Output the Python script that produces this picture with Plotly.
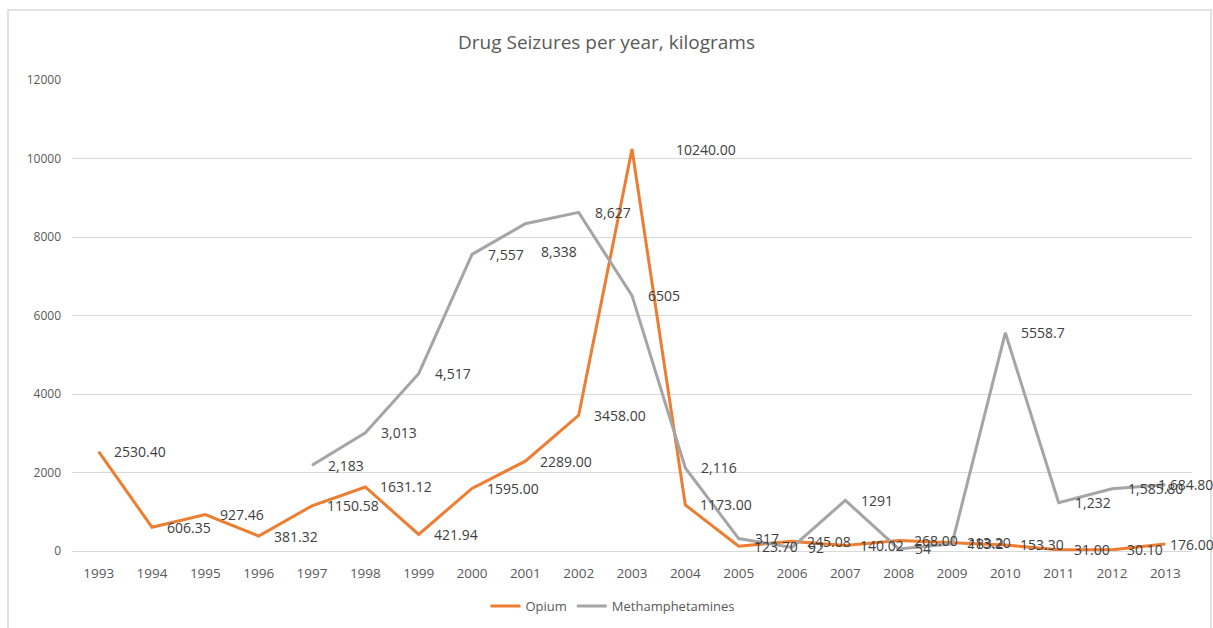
import plotly.graph_objects as go

years = [str(y) for y in range(1993, 2014)]
opium = [2530.40, 606.35, 927.46, 381.32, 1150.58, 1631.12, 421.94, 1595.00, 2289.00,
         3458.00, 10240.00, 1173.00, 123.70, 245.08, 140.02, 268.00, 213.20, 153.30,
         31.00, 30.10, 176.00]
meth = [None, None, None, None, 2183, 3013, 4517, 7557, 8338, 8627, 6505, 2116, 317, 92,
        1291, 54, 183.2, 5558.7, 1232, 1585.80, 1684.80]
meth_labels = [None, None, None, None, "2,183", "3,013", "4,517", "7,557", "8,338", "8,627",
               "6505", "2,116", "317", "92", "1291", "54", "183.2", "5558.7", "1,232",
               "1,585.80", "1,684.80"]
opium_labels = [f"{v:.2f}" for v in opium]

ORANGE = "#ED7D31"
GRAY = "#A5A5A5"
TXT = "#595959"
FONT = "Open Sans"
LBL = dict(family=FONT, size=14, color="#404040")

fig = go.Figure()
fig.add_trace(go.Scatter(x=years, y=opium, mode="lines", name="Opium",
                         line=dict(color=ORANGE, width=3)))
fig.add_trace(go.Scatter(x=years, y=meth, mode="lines", name="Methamphetamines",
                         line=dict(color=GRAY, width=3)))

# label nudges (pixels) for a few labels placed by hand in the original
nudge_meth = {"2001": (14, -28), "2013": (-9, 0)}
nudge_op = {"2003": (42, 0), "2013": (3, 0)}

ann = []
for i, (yr, v, lab) in enumerate(zip(years, opium, opium_labels)):
    dx, dy = nudge_op.get(yr, (13, 0))
    ann.append(dict(x=i, y=v, xref="x", yref="y", text=lab, showarrow=False,
                    xanchor="left", yanchor="middle", xshift=dx, yshift=dy, font=LBL))
for i, (yr, v, lab) in enumerate(zip(years, meth, meth_labels)):
    if v is None:
        continue
    dx, dy = nudge_meth.get(yr, (14, 0))
    ann.append(dict(x=i, y=v, xref="x", yref="y", text=lab, showarrow=False,
                    xanchor="left", yanchor="middle", xshift=dx, yshift=dy, font=LBL))

fig.update_layout(
    width=1213, height=628,
    paper_bgcolor="white", plot_bgcolor="white",
    margin=dict(l=72, r=21, t=80, b=77, autoexpand=False),
    title=dict(text="Drug Seizures per year, kilograms", x=0.5, xanchor="center",
               y=1 - 42 / 628, yanchor="middle",
               font=dict(family=FONT, size=19, color=TXT)),
    font=dict(family=FONT, color=TXT),
    xaxis=dict(type="category", range=[-0.5, 20.5], showgrid=False, showline=False,
               ticks="", ticklabelstandoff=12,
               tickfont=dict(family=FONT, size=13.5, color=TXT)),
    yaxis=dict(range=[0, 12000], dtick=2000, tickformat="d", gridcolor="#D9D9D9",
               gridwidth=1, zeroline=True, zerolinecolor="#D9D9D9", zerolinewidth=1,
               showline=False, ticks="", ticklabelstandoff=10,
               tickfont=dict(family=FONT, size=12, color=TXT)),
    legend=dict(orientation="h", x=0.483, xanchor="center", y=-55 / 471, yanchor="middle",
                font=dict(family=FONT, size=13, color=TXT)),
    annotations=ann,
    shapes=[dict(type="rect", xref="paper", yref="paper",
                 x0=-64 / 1120, x1=(1211 - 72) / 1120, y0=-0.3, y1=1 + 70 / 471,
                 line=dict(color="#D9D9D9", width=1.5))],
)

fig.write_html("out.html")
